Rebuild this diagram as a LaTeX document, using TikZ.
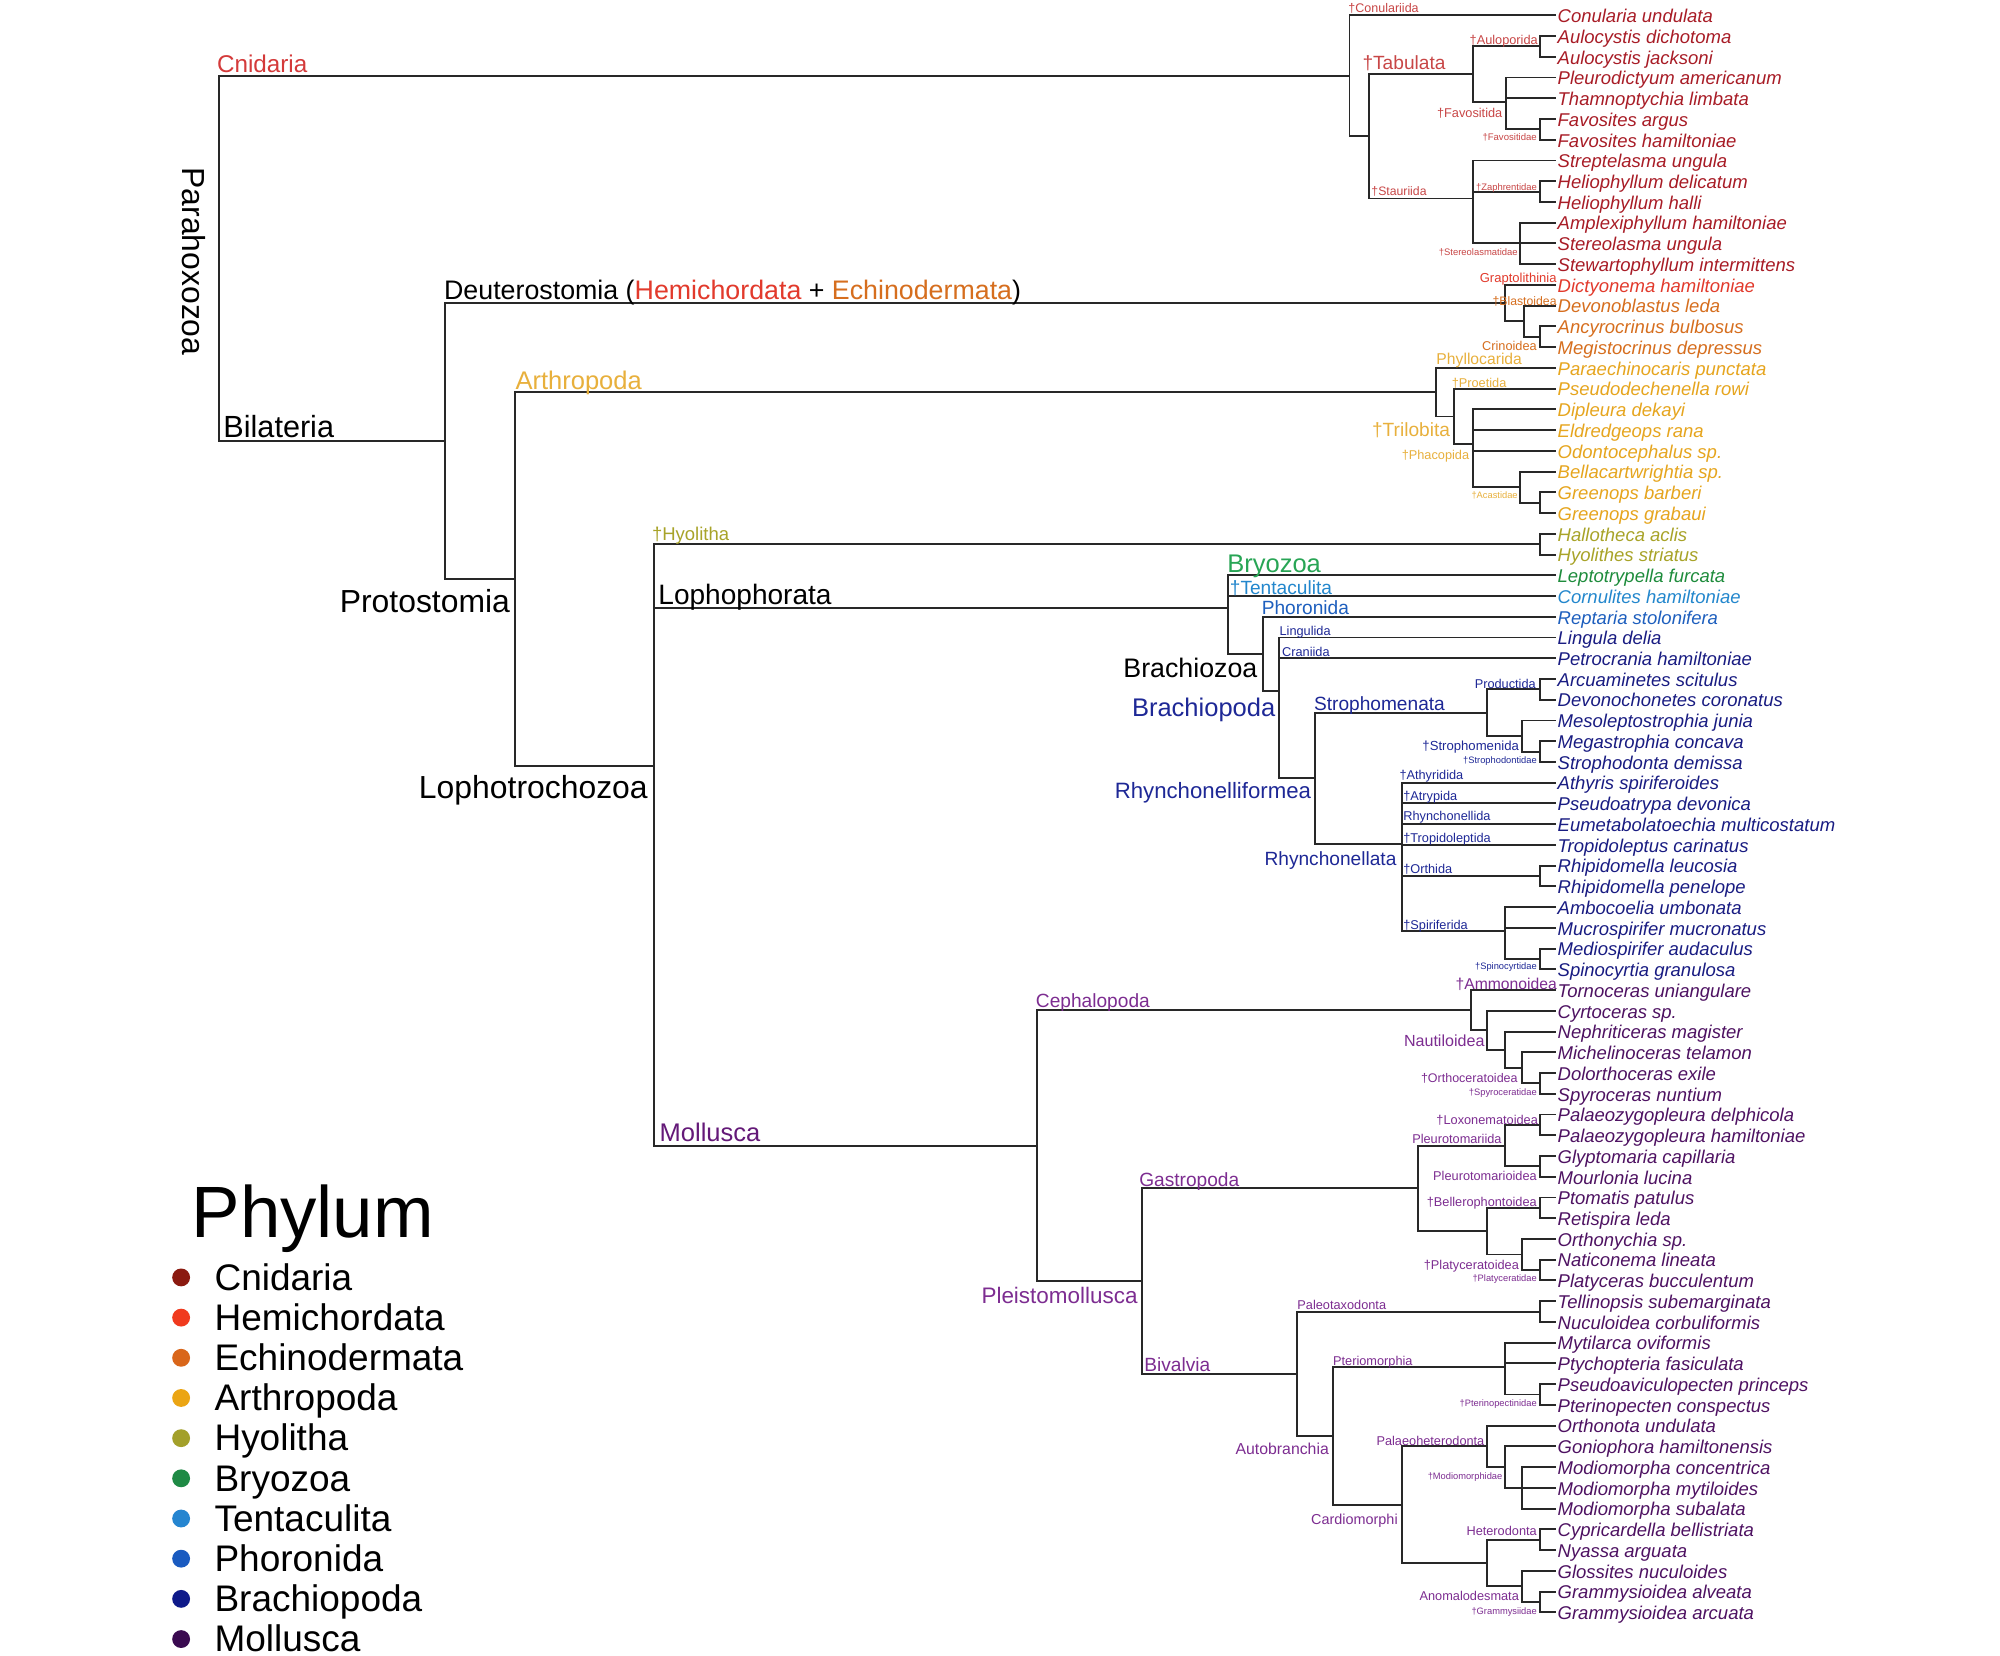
\documentclass[tikz,border=0pt]{standalone}
\usepackage{fontspec}
\setmainfont{Liberation Sans}
\newcommand\myfs[1]{\fontsize{#1}{#1}\selectfont}
\definecolor{linec}{RGB}{40,40,40}
\definecolor{cnidT}{RGB}{168,28,38}
\definecolor{cnidL}{RGB}{200,70,70}
\definecolor{cnidH}{RGB}{212,58,58}
\definecolor{hemiT}{RGB}{226,58,44}
\definecolor{echT}{RGB}{214,110,30}
\definecolor{arthT}{RGB}{230,165,30}
\definecolor{arthL}{RGB}{232,176,60}
\definecolor{hyoT}{RGB}{168,163,40}
\definecolor{bryoT}{RGB}{30,140,60}
\definecolor{bryoL}{RGB}{40,165,85}
\definecolor{tentT}{RGB}{35,135,205}
\definecolor{phorT}{RGB}{30,95,190}
\definecolor{brachT}{RGB}{25,28,130}
\definecolor{brachL}{RGB}{30,40,150}
\definecolor{mollT}{RGB}{78,18,98}
\definecolor{mollL}{RGB}{125,45,145}
\definecolor{mollH}{RGB}{100,25,120}
\definecolor{cnidD}{RGB}{139,26,16}
\definecolor{hemiD}{RGB}{240,58,30}
\definecolor{echD}{RGB}{217,102,26}
\definecolor{arthD}{RGB}{235,165,20}
\definecolor{hyoD}{RGB}{163,160,42}
\definecolor{bryoD}{RGB}{31,138,69}
\definecolor{tentD}{RGB}{37,133,208}
\definecolor{phorD}{RGB}{26,91,192}
\definecolor{brachD}{RGB}{15,26,138}
\definecolor{mollD}{RGB}{58,10,80}
\begin{document}
\begin{tikzpicture}[x=1pt,y=-1pt,
  tree/.style={draw=linec, line width=1.5pt},
  tip/.style={anchor=west, inner sep=1pt, font=\myfs{14.5}\itshape, text height=12pt, text depth=0.6pt},
  lbW/.style={anchor=base west, inner sep=0pt},
  lbE/.style={anchor=base east, inner sep=0pt},
  dotm/.style={circle, inner sep=0pt, minimum size=14pt},
  leg/.style={anchor=base west, inner sep=0pt, font=\myfs{29}}]
\fill[white] (0,0) rectangle (1568,1298.2);
\useasboundingbox (0,0) rectangle (1568,1298.2);

% ---------------- tips ----------------
\begin{scope}[every node/.append style={tip}]
\node[text=cnidT] (t1) at (1220,12.00) {Conularia undulata};
\node[text=cnidT] (t2) at (1220,28.26) {Aulocystis dichotoma};
\node[text=cnidT] (t3) at (1220,44.52) {Aulocystis jacksoni};
\node[text=cnidT] (t4) at (1220,60.78) {Pleurodictyum americanum};
\node[text=cnidT] (t5) at (1220,77.04) {Thamnoptychia limbata};
\node[text=cnidT] (t6) at (1220,93.30) {Favosites argus};
\node[text=cnidT] (t7) at (1220,109.56) {Favosites hamiltoniae};
\node[text=cnidT] (t8) at (1220,125.82) {Streptelasma ungula};
\node[text=cnidT] (t9) at (1220,142.08) {Heliophyllum delicatum};
\node[text=cnidT] (t10) at (1220,158.34) {Heliophyllum halli};
\node[text=cnidT] (t11) at (1220,174.60) {Amplexiphyllum hamiltoniae};
\node[text=cnidT] (t12) at (1220,190.86) {Stereolasma ungula};
\node[text=cnidT] (t13) at (1220,207.12) {Stewartophyllum intermittens};
\node[text=hemiT] (t14) at (1220,223.38) {Dictyonema hamiltoniae};
\node[text=echT] (t15) at (1220,239.64) {Devonoblastus leda};
\node[text=echT] (t16) at (1220,255.90) {Ancyrocrinus bulbosus};
\node[text=echT] (t17) at (1220,272.16) {Megistocrinus depressus};
\node[text=arthT] (t18) at (1220,288.42) {Paraechinocaris punctata};
\node[text=arthT] (t19) at (1220,304.68) {Pseudodechenella rowi};
\node[text=arthT] (t20) at (1220,320.94) {Dipleura dekayi};
\node[text=arthT] (t21) at (1220,337.20) {Eldredgeops rana};
\node[text=arthT] (t22) at (1220,353.46) {Odontocephalus sp.};
\node[text=arthT] (t23) at (1220,369.72) {Bellacartwrightia sp.};
\node[text=arthT] (t24) at (1220,385.98) {Greenops barberi};
\node[text=arthT] (t25) at (1220,402.24) {Greenops grabaui};
\node[text=hyoT] (t26) at (1220,418.50) {Hallotheca aclis};
\node[text=hyoT] (t27) at (1220,434.76) {Hyolithes striatus};
\node[text=bryoT] (t28) at (1220,451.02) {Leptotrypella furcata};
\node[text=tentT] (t29) at (1220,467.28) {Cornulites hamiltoniae};
\node[text=phorT] (t30) at (1220,483.54) {Reptaria stolonifera};
\node[text=brachT] (t31) at (1220,499.80) {Lingula delia};
\node[text=brachT] (t32) at (1220,516.06) {Petrocrania hamiltoniae};
\node[text=brachT] (t33) at (1220,532.32) {Arcuaminetes scitulus};
\node[text=brachT] (t34) at (1220,548.58) {Devonochonetes coronatus};
\node[text=brachT] (t35) at (1220,564.84) {Mesoleptostrophia junia};
\node[text=brachT] (t36) at (1220,581.10) {Megastrophia concava};
\node[text=brachT] (t37) at (1220,597.36) {Strophodonta demissa};
\node[text=brachT] (t38) at (1220,613.62) {Athyris spiriferoides};
\node[text=brachT] (t39) at (1220,629.88) {Pseudoatrypa devonica};
\node[text=brachT] (t40) at (1220,646.14) {Eumetabolatoechia multicostatum};
\node[text=brachT] (t41) at (1220,662.40) {Tropidoleptus carinatus};
\node[text=brachT] (t42) at (1220,678.66) {Rhipidomella leucosia};
\node[text=brachT] (t43) at (1220,694.92) {Rhipidomella penelope};
\node[text=brachT] (t44) at (1220,711.18) {Ambocoelia umbonata};
\node[text=brachT] (t45) at (1220,727.44) {Mucrospirifer mucronatus};
\node[text=brachT] (t46) at (1220,743.70) {Mediospirifer audaculus};
\node[text=brachT] (t47) at (1220,759.96) {Spinocyrtia granulosa};
\node[text=mollT] (t48) at (1220,776.22) {Tornoceras uniangulare};
\node[text=mollT] (t49) at (1220,792.48) {Cyrtoceras sp.};
\node[text=mollT] (t50) at (1220,808.74) {Nephriticeras magister};
\node[text=mollT] (t51) at (1220,825.00) {Michelinoceras telamon};
\node[text=mollT] (t52) at (1220,841.26) {Dolorthoceras exile};
\node[text=mollT] (t53) at (1220,857.52) {Spyroceras nuntium};
\node[text=mollT] (t54) at (1220,873.78) {Palaeozygopleura delphicola};
\node[text=mollT] (t55) at (1220,890.04) {Palaeozygopleura hamiltoniae};
\node[text=mollT] (t56) at (1220,906.30) {Glyptomaria capillaria};
\node[text=mollT] (t57) at (1220,922.56) {Mourlonia lucina};
\node[text=mollT] (t58) at (1220,938.82) {Ptomatis patulus};
\node[text=mollT] (t59) at (1220,955.08) {Retispira leda};
\node[text=mollT] (t60) at (1220,971.34) {Orthonychia sp.};
\node[text=mollT] (t61) at (1220,987.60) {Naticonema lineata};
\node[text=mollT] (t62) at (1220,1003.86) {Platyceras bucculentum};
\node[text=mollT] (t63) at (1220,1020.12) {Tellinopsis subemarginata};
\node[text=mollT] (t64) at (1220,1036.38) {Nuculoidea corbuliformis};
\node[text=mollT] (t65) at (1220,1052.64) {Mytilarca oviformis};
\node[text=mollT] (t66) at (1220,1068.90) {Ptychopteria fasiculata};
\node[text=mollT] (t67) at (1220,1085.16) {Pseudoaviculopecten princeps};
\node[text=mollT] (t68) at (1220,1101.42) {Pterinopecten conspectus};
\node[text=mollT] (t69) at (1220,1117.68) {Orthonota undulata};
\node[text=mollT] (t70) at (1220,1133.94) {Goniophora hamiltonensis};
\node[text=mollT] (t71) at (1220,1150.20) {Modiomorpha concentrica};
\node[text=mollT] (t72) at (1220,1166.46) {Modiomorpha mytiloides};
\node[text=mollT] (t73) at (1220,1182.72) {Modiomorpha subalata};
\node[text=mollT] (t74) at (1220,1198.98) {Cypricardella bellistriata};
\node[text=mollT] (t75) at (1220,1215.24) {Nyassa arguata};
\node[text=mollT] (t76) at (1220,1231.50) {Glossites nuculoides};
\node[text=mollT] (t77) at (1220,1247.76) {Grammysioidea alveata};
\node[text=mollT] (t78) at (1220,1264.02) {Grammysioidea arcuata};
\end{scope}

% ---------------- internal nodes ----------------
\coordinate (nRoot) at (172,202.63);
\coordinate (nCn) at (1058,59.43);
\coordinate (nAn) at (1073,106.85);
\coordinate (nTb) at (1155,58.07);
\coordinate (nAu) at (1207,36.39);
\coordinate (nFa) at (1181,79.75);
\coordinate (nFd) at (1207,101.43);
\coordinate (nSt) at (1155,155.63);
\coordinate (nZa) at (1207,150.21);
\coordinate (nSl) at (1192,190.86);
\coordinate (nBl) at (349,345.83);
\coordinate (nDe) at (1180,237.61);
\coordinate (nEc) at (1195,251.84);
\coordinate (nCr) at (1207,264.03);
\coordinate (nPr) at (404,454.04);
\coordinate (nAr) at (1126,307.48);
\coordinate (nTr) at (1140,326.53);
\coordinate (nPh) at (1155,348.38);
\coordinate (nAc) at (1192,381.92);
\coordinate (nGn) at (1207,394.11);
\coordinate (nLt) at (513,600.60);
\coordinate (nHy) at (1207,426.63);
\coordinate (nLo) at (963,477.02);
\coordinate (nBz) at (990,512.77);
\coordinate (nBp) at (1003,541.99);
\coordinate (nRf) at (1031,610.12);
\coordinate (nSa) at (1166,558.74);
\coordinate (nPd) at (1207,540.45);
\coordinate (nSm) at (1193,577.04);
\coordinate (nSd) at (1207,589.23);
\coordinate (nRh) at (1099,661.50);
\coordinate (nOr) at (1207,686.79);
\coordinate (nSf) at (1180,730.15);
\coordinate (nSp) at (1207,751.83);
\coordinate (nMo) at (813,898.16);
\coordinate (nCe) at (1153,791.98);
\coordinate (nNa) at (1166,807.73);
\coordinate (nN2) at (1180,822.97);
\coordinate (nOc) at (1193,837.20);
\coordinate (nSy) at (1207,849.39);
\coordinate (nPs) at (895,1004.33);
\coordinate (nGa) at (1112,931.71);
\coordinate (nPm) at (1180,898.17);
\coordinate (nLx) at (1207,881.91);
\coordinate (nPl) at (1207,914.43);
\coordinate (nBe) at (1166,965.25);
\coordinate (nB1) at (1207,946.95);
\coordinate (nPt) at (1193,983.54);
\coordinate (nPc) at (1207,995.73);
\coordinate (nBv) at (1017,1076.95);
\coordinate (nPa) at (1207,1028.25);
\coordinate (nAb) at (1045,1125.64);
\coordinate (nPe) at (1180,1071.61);
\coordinate (nPp) at (1207,1093.29);
\coordinate (nCd) at (1099,1179.67);
\coordinate (nPh2) at (1166,1133.94);
\coordinate (nMq) at (1180,1150.20);
\coordinate (nMr) at (1193,1166.46);
\coordinate (nHa) at (1166,1225.40);
\coordinate (nHe) at (1207,1207.11);
\coordinate (nAd) at (1193,1243.70);
\coordinate (nGr) at (1207,1255.89);

% ---------------- branches ----------------
\draw[tree] (nRoot) |- (nCn) (nRoot) |- (nBl);
\draw[tree] (nCn) |- (t1.west) (nCn) |- (nAn);
\draw[tree] (nAn) |- (nTb) (nAn) |- (nSt);
\draw[tree] (nTb) |- (nAu) (nTb) |- (nFa);
\draw[tree] (nAu) |- (t2.west) (nAu) |- (t3.west);
\draw[tree] (nFa) |- (t4.west) (nFa) |- (t5.west) (nFa) |- (nFd);
\draw[tree] (nFd) |- (t6.west) (nFd) |- (t7.west);
\draw[tree] (nSt) |- (t8.west) (nSt) |- (nZa) (nSt) |- (nSl);
\draw[tree] (nZa) |- (t9.west) (nZa) |- (t10.west);
\draw[tree] (nSl) |- (t11.west) (nSl) |- (t12.west) (nSl) |- (t13.west);
\draw[tree] (nBl) |- (nDe) (nBl) |- (nPr);
\draw[tree] (nDe) |- (t14.west) (nDe) |- (nEc);
\draw[tree] (nEc) |- (t15.west) (nEc) |- (nCr);
\draw[tree] (nCr) |- (t16.west) (nCr) |- (t17.west);
\draw[tree] (nPr) |- (nAr) (nPr) |- (nLt);
\draw[tree] (nAr) |- (t18.west) (nAr) |- (nTr);
\draw[tree] (nTr) |- (t19.west) (nTr) |- (nPh);
\draw[tree] (nPh) |- (t20.west) (nPh) |- (t21.west) (nPh) |- (t22.west) (nPh) |- (nAc);
\draw[tree] (nAc) |- (t23.west) (nAc) |- (nGn);
\draw[tree] (nGn) |- (t24.west) (nGn) |- (t25.west);
\draw[tree] (nLt) |- (nHy) (nLt) |- (nLo) (nLt) |- (nMo);
\draw[tree] (nHy) |- (t26.west) (nHy) |- (t27.west);
\draw[tree] (nLo) |- (t28.west) (nLo) |- (t29.west) (nLo) |- (nBz);
\draw[tree] (nBz) |- (t30.west) (nBz) |- (nBp);
\draw[tree] (nBp) |- (t31.west) (nBp) |- (t32.west) (nBp) |- (nRf);
\draw[tree] (nRf) |- (nSa) (nRf) |- (nRh);
\draw[tree] (nSa) |- (nPd) (nSa) |- (nSm);
\draw[tree] (nPd) |- (t33.west) (nPd) |- (t34.west);
\draw[tree] (nSm) |- (t35.west) (nSm) |- (nSd);
\draw[tree] (nSd) |- (t36.west) (nSd) |- (t37.west);
\draw[tree] (nRh) |- (t38.west) (nRh) |- (t39.west) (nRh) |- (t40.west) (nRh) |- (t41.west) (nRh) |- (nOr) (nRh) |- (nSf);
\draw[tree] (nOr) |- (t42.west) (nOr) |- (t43.west);
\draw[tree] (nSf) |- (t44.west) (nSf) |- (t45.west) (nSf) |- (nSp);
\draw[tree] (nSp) |- (t46.west) (nSp) |- (t47.west);
\draw[tree] (nMo) |- (nCe) (nMo) |- (nPs);
\draw[tree] (nCe) |- (t48.west) (nCe) |- (nNa);
\draw[tree] (nNa) |- (t49.west) (nNa) |- (nN2);
\draw[tree] (nN2) |- (t50.west) (nN2) |- (nOc);
\draw[tree] (nOc) |- (t51.west) (nOc) |- (nSy);
\draw[tree] (nSy) |- (t52.west) (nSy) |- (t53.west);
\draw[tree] (nPs) |- (nGa) (nPs) |- (nBv);
\draw[tree] (nGa) |- (nPm) (nGa) |- (nBe);
\draw[tree] (nPm) |- (nLx) (nPm) |- (nPl);
\draw[tree] (nLx) |- (t54.west) (nLx) |- (t55.west);
\draw[tree] (nPl) |- (t56.west) (nPl) |- (t57.west);
\draw[tree] (nBe) |- (nB1) (nBe) |- (nPt);
\draw[tree] (nB1) |- (t58.west) (nB1) |- (t59.west);
\draw[tree] (nPt) |- (t60.west) (nPt) |- (nPc);
\draw[tree] (nPc) |- (t61.west) (nPc) |- (t62.west);
\draw[tree] (nBv) |- (nPa) (nBv) |- (nAb);
\draw[tree] (nPa) |- (t63.west) (nPa) |- (t64.west);
\draw[tree] (nAb) |- (nPe) (nAb) |- (nCd);
\draw[tree] (nPe) |- (t65.west) (nPe) |- (t66.west) (nPe) |- (nPp);
\draw[tree] (nPp) |- (t67.west) (nPp) |- (t68.west);
\draw[tree] (nCd) |- (nPh2) (nCd) |- (nHa);
\draw[tree] (nPh2) |- (t69.west) (nPh2) |- (nMq);
\draw[tree] (nMq) |- (t70.west) (nMq) |- (nMr);
\draw[tree] (nMr) |- (t71.west) (nMr) |- (t72.west) (nMr) |- (t73.west);
\draw[tree] (nHa) |- (nHe) (nHa) |- (nAd);
\draw[tree] (nHe) |- (t74.west) (nHe) |- (t75.west);
\draw[tree] (nAd) |- (t76.west) (nAd) |- (nGr);
\draw[tree] (nGr) |- (t77.west) (nGr) |- (t78.west);

% ---------------- clade labels ----------------
\node[lbW, font=\myfs{19}, text=cnidH] (lCnid) at (170,57) {Cnidaria};
\node[rotate=-90, font=\myfs{25}] (lPara) at (152,205) {Parahoxozoa};
\node[lbW, font=\myfs{24}] (lBil) at (175,343) {Bilateria};
\node[lbW, font=\myfs{21}] (lDeu) at (348,234.5) {Deuterostomia (\textcolor{hemiT}{Hemichordata} + \textcolor{echT}{Echinodermata})};
\node[lbE, font=\myfs{25}] (lPro) at (400,480) {Protostomia};
\node[lbW, font=\myfs{20}, text=arthL] (lArt) at (404,305) {Arthropoda};
\node[lbE, font=\myfs{25}] (lLtz) at (508,626) {Lophotrochozoa};
\node[lbW, font=\myfs{14.5}, text=hyoT] (lHyo) at (511,423.5) {†Hyolitha};
\node[lbW, font=\myfs{22}] (lLoph) at (516,474) {Lophophorata};
\node[lbW, font=\myfs{20}, text=mollH] (lMol) at (517,895) {Mollusca};

\node[lbW, font=\myfs{9.8}, text=cnidL] (lConu) at (1057,9.5) {†Conulariida};
\node[lbW, font=\myfs{15}, text=cnidL] (lTab) at (1068,54.5) {†Tabulata};
\node[lbW, font=\myfs{10}, text=cnidL] (lAulo) at (1152,34.5) {†Auloporida};
\node[lbE, font=\myfs{10}, text=cnidL] (lFavo) at (1178,92) {†Favositida};
\node[lbE, font=\myfs{7.5}, text=cnidL] (lFavd) at (1205,110) {†Favositidae};
\node[lbW, font=\myfs{9.6}, text=cnidL] (lStau) at (1075,153.5) {†Stauriida};
\node[lbW, font=\myfs{7.4}, text=cnidL] (lZaph) at (1157,149) {†Zaphrentidae};
\node[lbE, font=\myfs{7.4}, text=cnidL] (lSter) at (1190,200.5) {†Stereolasmatidae};

\node[lbW, font=\myfs{10.2}, text=hemiT] (lGrap) at (1160,221.5) {Graptolithinia};
\node[lbW, font=\myfs{9.6}, text=echT] (lBlas) at (1170,239.5) {†Blastoidea};
\node[lbE, font=\myfs{10}, text=echT] (lCrin) at (1205,275) {Crinoidea};

\node[lbW, font=\myfs{12.3}, text=arthL] (lPhyl) at (1126,285.5) {Phyllocarida};
\node[lbW, font=\myfs{10}, text=arthL] (lProe) at (1138,303.5) {†Proetida};
\node[lbE, font=\myfs{15}, text=arthL] (lTril) at (1137,342.5) {†Trilobita};
\node[lbE, font=\myfs{10}, text=arthL] (lPhac) at (1152,360.5) {†Phacopida};
\node[lbE, font=\myfs{7.3}, text=arthL] (lAcas) at (1190,391) {†Acastidae};

\node[lbW, font=\myfs{20}, text=bryoL] (lBryo) at (962,449) {Bryozoa};
\node[lbW, font=\myfs{15}, text=tentT] (lTent) at (964,466) {†Tentaculita};
\node[lbW, font=\myfs{15}, text=phorT] (lPhor) at (989,482) {Phoronida};
\node[lbE, font=\myfs{21}] (lBrz) at (986,531) {Brachiozoa};
\node[lbE, font=\myfs{20}, text=brachL] (lBrp) at (1000,562) {Brachiopoda};
\node[lbW, font=\myfs{10}, text=brachL] (lLing) at (1003,498) {Lingulida};
\node[lbW, font=\myfs{10}, text=brachL] (lCran) at (1005,514.5) {Craniida};
\node[lbW, font=\myfs{15}, text=brachL] (lStra) at (1030,557) {Strophomenata};
\node[lbE, font=\myfs{17.4}, text=brachL] (lRhf) at (1028,626) {Rhynchonelliformea};
\node[lbE, font=\myfs{15}, text=brachL] (lRhy) at (1095,678.5) {Rhynchonellata};
\node[lbW, font=\myfs{10}, text=brachL] (lProd) at (1156,539.5) {Productida};
\node[lbE, font=\myfs{10.3}, text=brachL] (lStrm) at (1191,588) {†Strophomenida};
\node[lbE, font=\myfs{7.3}, text=brachL] (lStrd) at (1205,598.5) {†Strophodontidae};
\node[lbW, font=\myfs{10}, text=brachL] (lAthy) at (1097,611) {†Athyridida};
\node[lbW, font=\myfs{10}, text=brachL] (lAtry) at (1100,627.5) {†Atrypida};
\node[lbW, font=\myfs{10}, text=brachL] (lRhyn) at (1100,643.5) {Rhynchonellida};
\node[lbW, font=\myfs{10}, text=brachL] (lTrop) at (1100,660.5) {†Tropidoleptida};
\node[lbW, font=\myfs{10}, text=brachL] (lOrth) at (1100,685) {†Orthida};
\node[lbW, font=\myfs{10}, text=brachL] (lSpir) at (1100,728.5) {†Spiriferida};
\node[lbE, font=\myfs{7.3}, text=brachL] (lSpin) at (1205,760) {†Spinocyrtidae};

\node[lbW, font=\myfs{15}, text=mollL] (lCeph) at (812,790) {Cephalopoda};
\node[lbE, font=\myfs{17.6}, text=mollL] (lPlei) at (892,1022) {Pleistomollusca};
\node[lbW, font=\myfs{15}, text=mollL] (lGast) at (893,930) {Gastropoda};
\node[lbW, font=\myfs{15}, text=mollL] (lBiva) at (897,1075.5) {Bivalvia};
\node[lbE, font=\myfs{12.4}, text=mollL] (lAuto) at (1042,1140.5) {Autobranchia};
\node[lbE, font=\myfs{11.3}, text=mollL] (lCard) at (1096,1195) {Cardiomorphi};
\node[lbW, font=\myfs{12.3}, text=mollL] (lAmmo) at (1141,775.5) {†Ammonoidea};
\node[lbE, font=\myfs{12.6}, text=mollL] (lNaut) at (1164,820.5) {Nautiloidea};
\node[lbE, font=\myfs{9.8}, text=mollL] (lOrtc) at (1190,848.5) {†Orthoceratoidea};
\node[lbE, font=\myfs{7.3}, text=mollL] (lSpyr) at (1205,859) {†Spyroceratidae};
\node[lbW, font=\myfs{10}, text=mollL] (lLoxo) at (1126,881.5) {†Loxonematoidea};
\node[lbW, font=\myfs{10}, text=mollL] (lPlda) at (1107,896.5) {Pleurotomariida};
\node[lbE, font=\myfs{10}, text=mollL] (lPldo) at (1205,925.5) {Pleurotomarioidea};
\node[lbE, font=\myfs{10}, text=mollL] (lBell) at (1205,945.5) {†Bellerophontoidea};
\node[lbE, font=\myfs{10}, text=mollL] (lPlat) at (1191,995.5) {†Platyceratoidea};
\node[lbE, font=\myfs{7.3}, text=mollL] (lPltd) at (1205,1004.7) {†Platyceratidae};
\node[lbW, font=\myfs{10}, text=mollL] (lPale) at (1017,1027) {Paleotaxodonta};
\node[lbW, font=\myfs{10}, text=mollL] (lPter) at (1045,1070.5) {Pteriomorphia};
\node[lbE, font=\myfs{7.3}, text=mollL] (lPtnp) at (1205,1102.7) {†Pterinopectinidae};
\node[lbW, font=\myfs{10}, text=mollL] (lPahe) at (1079,1133) {Palaeoheterodonta};
\node[lbE, font=\myfs{7.3}, text=mollL] (lModi) at (1178,1160) {†Modiomorphidae};
\node[lbE, font=\myfs{10}, text=mollL] (lHete) at (1205,1204) {Heterodonta};
\node[lbE, font=\myfs{10}, text=mollL] (lAnom) at (1191,1254.5) {Anomalodesmata};
\node[lbE, font=\myfs{7.3}, text=mollL] (lGram) at (1205,1265.7) {†Grammysiidae};

% ---------------- legend ----------------
\node[anchor=base west, inner sep=0pt, font=\myfs{57}] (legT) at (150,970) {Phylum};
\node[dotm, fill=cnidD] (d1) at (142,1001.5) {};
\node[dotm, fill=hemiD] (d2) at (142,1033) {};
\node[dotm, fill=echD] (d3) at (142,1064.5) {};
\node[dotm, fill=arthD] (d4) at (142,1096) {};
\node[dotm, fill=hyoD] (d5) at (142,1127.5) {};
\node[dotm, fill=bryoD] (d6) at (142,1159) {};
\node[dotm, fill=tentD] (d7) at (142,1190.5) {};
\node[dotm, fill=phorD] (d8) at (142,1222) {};
\node[dotm, fill=brachD] (d9) at (142,1253.5) {};
\node[dotm, fill=mollD] (d10) at (142,1285) {};
\node[leg] (g1) at (168,1011.5) {Cnidaria};
\node[leg] (g2) at (168,1043) {Hemichordata};
\node[leg] (g3) at (168,1074.5) {Echinodermata};
\node[leg] (g4) at (168,1106) {Arthropoda};
\node[leg] (g5) at (168,1137.5) {Hyolitha};
\node[leg] (g6) at (168,1169) {Bryozoa};
\node[leg] (g7) at (168,1200.5) {Tentaculita};
\node[leg] (g8) at (168,1232) {Phoronida};
\node[leg] (g9) at (168,1263.5) {Brachiopoda};
\node[leg] (g10) at (168,1295) {Mollusca};
\end{tikzpicture}
\end{document}
